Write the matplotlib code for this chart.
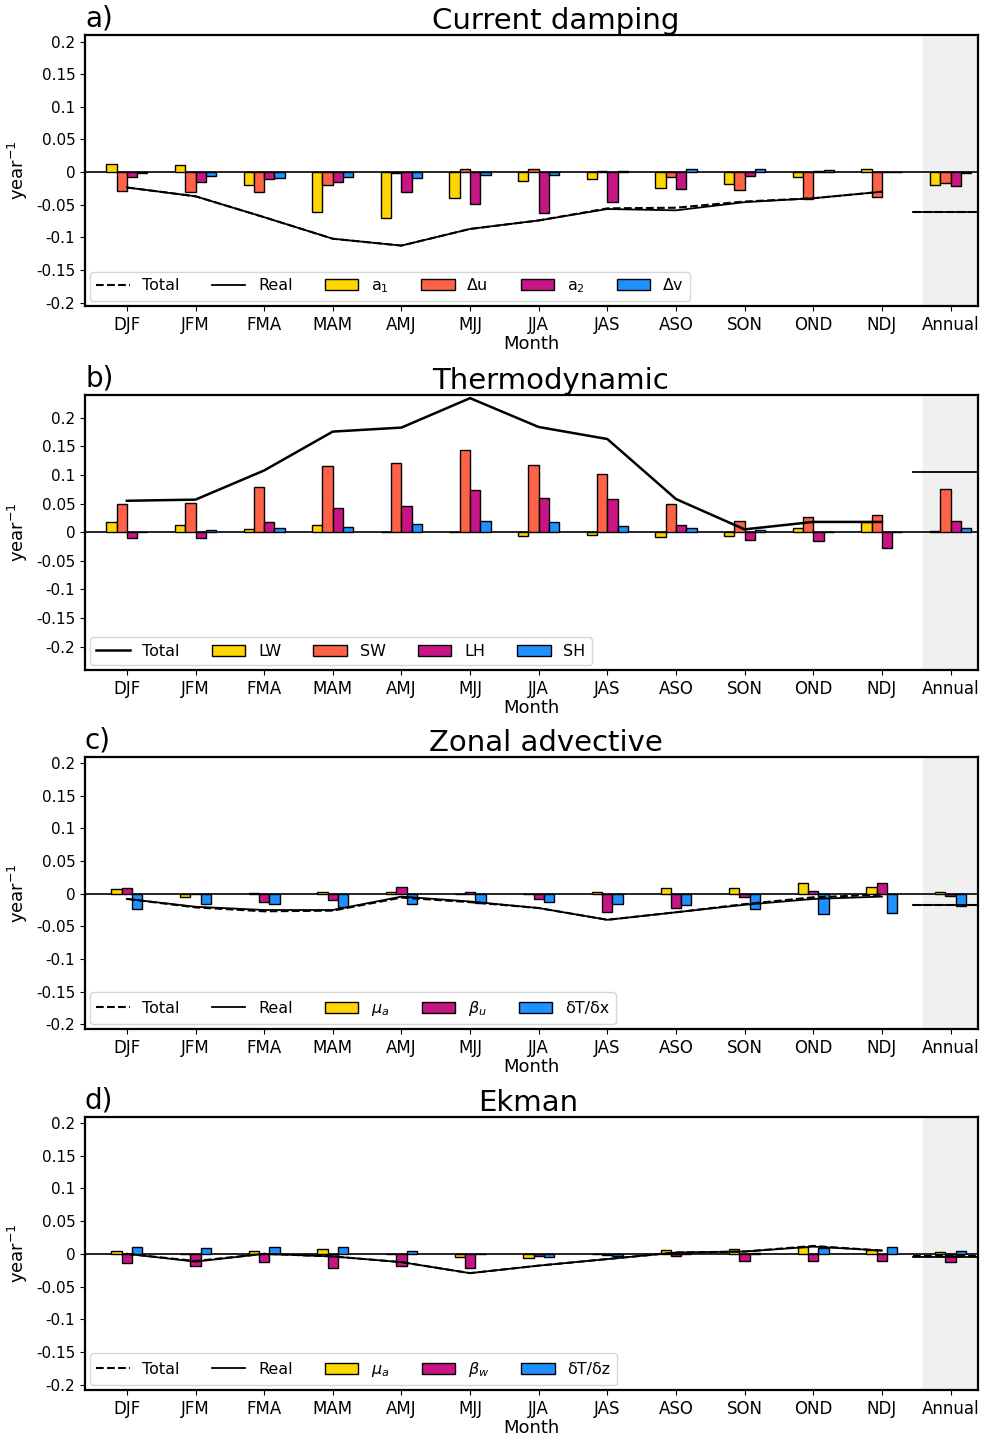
import matplotlib
matplotlib.use('Agg')
import matplotlib.pyplot as plt
import numpy as np

months = ['DJF', 'JFM', 'FMA', 'MAM', 'AMJ', 'MJJ', 'JJA', 'JAS', 'ASO', 'SON', 'OND', 'NDJ', 'Annual']

# a) Current damping
a_a1 = [0.013, 0.011, -0.020, -0.0605, -0.0707, -0.039, -0.013, -0.011, -0.025, -0.018, -0.008, 0.005, -0.020]
a_du = [-0.0285, -0.030, -0.031, -0.019, -0.001, 0.0055, 0.005, 0.002, -0.007, -0.0275, -0.041, -0.0375, -0.017]
a_a2 = [-0.007, -0.015, -0.011, -0.015, -0.0305, -0.049, -0.062, -0.046, -0.026, -0.0055, 0.002, 0.0, -0.022]
a_dv = [-0.002, -0.0055, -0.0085, -0.008, -0.0085, -0.005, -0.004, 0.001, 0.005, 0.005, 0.003, 0.0, -0.002]
a_total = [-0.0235, -0.037, -0.069, -0.102, -0.1125, -0.087, -0.074, -0.0555, -0.0545, -0.045, -0.040, -0.030, -0.0615]
a_real = [-0.0235, -0.037, -0.069, -0.102, -0.1125, -0.087, -0.074, -0.0565, -0.0585, -0.046, -0.040, -0.030, -0.0615]

# b) Thermodynamic
b_lw = [0.017, 0.0125, 0.006, 0.012, 0.001, 0.0, -0.007, -0.005, -0.008, -0.006, 0.008, 0.017, 0.002]
b_sw = [0.049, 0.0515, 0.0795, 0.115, 0.121, 0.143, 0.1175, 0.102, 0.0485, 0.020, 0.027, 0.030, 0.0755]
b_lh = [-0.0105, -0.0105, 0.0185, 0.0415, 0.046, 0.074, 0.0596, 0.058, 0.013, -0.0135, -0.015, -0.027, 0.020]
b_sh = [0.0, 0.003, 0.007, 0.009, 0.015, 0.020, 0.017, 0.011, 0.0065, 0.003, 0.0, 0.0, 0.008]
b_total = [0.055, 0.057, 0.108, 0.176, 0.183, 0.2345, 0.184, 0.163, 0.058, 0.005, 0.018, 0.018, 0.106]

# c) Zonal advective
c_mu = [0.0065, -0.0045, 0.001, 0.003, 0.002, 0.0, -0.001, 0.002, 0.008, 0.008, 0.017, 0.0097, 0.003]
c_beta = [0.0087, 0.0, -0.0127, -0.010, 0.0097, 0.0025, -0.0075, -0.0285, -0.0225, -0.0045, 0.0045, 0.016, -0.003]
c_dtdx = [-0.024, -0.0165, -0.0165, -0.020, -0.0165, -0.014, -0.012, -0.016, -0.017, -0.0235, -0.031, -0.030, -0.019]
c_total = [-0.008, -0.021, -0.027, -0.026, -0.006, -0.013, -0.022, -0.040, -0.0285, -0.016, -0.0056, -0.0015, -0.018]
c_real = [-0.008, -0.020, -0.025, -0.025, -0.0045, -0.012, -0.022, -0.040, -0.0285, -0.017, -0.0081, -0.0045, -0.018]

# d) Ekman
d_mu = [0.0046, 0.0, 0.0046, 0.007, 0.0, -0.0056, -0.0066, 0.0, 0.006, 0.007, 0.011, 0.006, 0.0025]
d_beta = [-0.0137, -0.018, -0.0132, -0.021, -0.018, -0.0214, -0.003, -0.002, -0.004, -0.0107, -0.0107, -0.0117, -0.0127]
d_dtdz = [0.010, 0.0087, 0.0097, 0.0097, 0.0046, 0.0, -0.0056, -0.003, 0.0, 0.002, 0.0087, 0.0107, 0.0046]
d_total = [0.0, -0.011, 0.0, -0.004, -0.0127, -0.0295, -0.018, -0.008, 0.002, 0.0035, 0.012, 0.005, -0.0036]
d_real = [0.0, -0.012, 0.0, -0.004, -0.0127, -0.0295, -0.018, -0.008, 0.002, 0.0035, 0.011, 0.005, -0.0056]

colors = ['#FFD700', '#FF6347', '#C71585', '#1E90FF']
plt.rcParams['font.family'] = 'DejaVu Sans'

fig = plt.figure(figsize=(9.82, 14.38), dpi=100)
W, H = 982, 1438
boxes = [(35, 306), (395, 670), (757, 1029), (1117, 1390)]
ylims = [(-0.205, 0.21), (-0.241, 0.240), (-0.207, 0.209), (-0.208, 0.209)]

panels = [
    ('a)', 'Current damping', 0.527, [a_a1, a_du, a_a2, a_dv],
     ['a$_1$', 'Δu', 'a$_2$', 'Δv'], a_total, a_real),
    ('b)', 'Thermodynamic', 0.521, [b_lw, b_sw, b_lh, b_sh],
     ['LW', 'SW', 'LH', 'SH'], b_total, None),
    ('c)', 'Zonal advective', 0.516, [c_mu, c_beta, c_dtdx],
     [r'$\mu_a$', r'$\beta_u$', 'δT/δx'], c_total, c_real),
    ('d)', 'Ekman', 0.496, [d_mu, d_beta, d_dtdz],
     [r'$\mu_a$', r'$\beta_w$', 'δT/δz'], d_total, d_real),
]

x = np.arange(len(months))
bw = 0.15
for (top, bot), ylim, (lab, title, tx, series, names, total, real) in zip(boxes, ylims, panels):
    ax = fig.add_axes([85 / W, 1 - bot / H, 893 / W, (bot - top) / H])
    ax.axvspan(11.6, 12.4, color='#f0f0f0', zorder=0)
    ax.axhline(0, color='black', lw=1.2, zorder=1)
    handles = []
    n = len(series)
    cols = colors if n == 4 else [colors[0], colors[2], colors[3]]
    for i, (vals, c, nm) in enumerate(zip(series, cols, names)):
        off = (i - (n - 1) / 2) * bw
        b = ax.bar(x + off, vals, width=bw, color=c, edgecolor='black', lw=1.0, label=nm, zorder=2)
        handles.append(b)
    if real is not None:
        l1, = ax.plot(x[:12], total[:12], ls='--', color='black', lw=1.5, label='Total', zorder=3)
        l2, = ax.plot(x[:12], real[:12], ls='-', color='black', lw=1.3, label='Real', zorder=3)
        ax.plot([11.45, 12.4], [total[12]] * 2, ls='--', color='black', lw=1.5, zorder=3)
        ax.plot([11.45, 12.4], [real[12]] * 2, ls='-', color='black', lw=1.3, zorder=3)
        lines = [l1, l2]
    else:
        l1, = ax.plot(x[:12], total[:12], ls='-', color='black', lw=1.8, label='Total', zorder=3)
        ax.plot([11.45, 12.4], [total[12]] * 2, ls='-', color='black', lw=1.3, zorder=3)
        lines = [l1]
    ax.set_xlim(-0.61, 12.4)
    ax.set_ylim(*ylim)
    ax.set_yticks([0.2, 0.15, 0.1, 0.05, 0, -0.05, -0.1, -0.15, -0.2])
    ax.set_yticklabels(['0.2', '0.15', '0.1', '0.05', '0', '-0.05', '-0.1', '-0.15', '-0.2'], fontsize=11)
    ax.set_xticks(x)
    ax.set_xticklabels(months, fontsize=12)
    ax.set_xlabel('Month', fontsize=13, labelpad=1)
    ax.set_ylabel('year$^{-1}$', fontsize=13)
    for s in ax.spines.values():
        s.set_linewidth(1.6)
    ax.text(0.0, 1.01, lab, transform=ax.transAxes, fontsize=20, ha='left', va='bottom')
    ax.text(tx, 1.0, title, transform=ax.transAxes, fontsize=21, ha='center', va='bottom')
    ax.legend(handles=lines + handles, loc='lower left', ncol=6, fontsize=11.5,
              handlelength=2.1, columnspacing=2.0, borderaxespad=0.3, framealpha=0.8)

fig.savefig('out.png', dpi=100)
